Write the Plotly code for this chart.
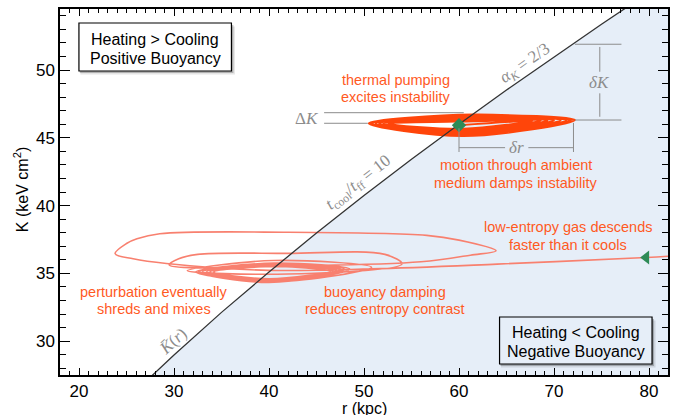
import plotly.graph_objects as go

# ---------------- data ----------------
# background entropy profile K̄(r) (the diagonal line, alpha_K = 2/3)
r_profile = [26, 30, 35, 40, 45, 50, 55, 60, 65, 70, 75, 80]
K_profile = [26.34, 28.98, 32.12, 35.10, 37.97, 40.74, 43.41, 46.00, 48.52, 50.98, 53.38, 55.72]

# growing oscillation (thermal pumping) - points along the trajectory
hot_r = [60.0,
         67.7, 60.5, 52.6, 61.5,
         68.6, 60.5, 52.0, 61.5,
         69.3, 60.5, 51.6, 61.5,
         70.0, 60.5, 51.2, 61.5,
         70.7, 60.5, 50.9, 61.5,
         71.3, 60.5, 50.7, 61.5,
         71.8, 60.5, 50.55, 61.5,
         72.2, 60.5, 50.5, 61.5,
         72.2]
hot_K = [45.93,
         46.25, 45.66, 46.03, 46.22,
         46.27, 45.56, 46.04, 46.32,
         46.28, 45.46, 46.05, 46.42,
         46.29, 45.38, 46.05, 46.50,
         46.30, 45.30, 46.06, 46.57,
         46.30, 45.23, 46.06, 46.63,
         46.31, 45.17, 46.07, 46.68,
         46.31, 45.13, 46.07, 46.72,
         46.31]

# descending low-entropy gas, damped oscillation - points along the trajectory
cold_r = [83.0, 79.7, 64.0, 50.8, 40.0, 29.2, 25.7,
          23.8, 25.0, 26.1, 28.5, 42.0, 56.6, 60.0, 63.9, 61.2, 56.0, 45.0,
          29.5, 30.5, 32.5, 42.0, 52.2, 54.0, 42.0,
          31.4, 40.5, 50.8, 41.0,
          32.3, 40.5, 48.5, 40.0,
          32.6, 40.5, 48.0, 40.0,
          33.0, 40.5, 47.6, 40.0,
          33.4, 40.5, 47.2, 40.0,
          33.8, 40.5, 46.8, 40.0,
          34.2, 40.5, 46.5]
cold_K = [36.30, 36.17, 35.68, 35.33, 35.22, 35.72, 36.07,
          36.45, 37.20, 37.55, 37.92, 38.03, 37.80, 37.45, 36.67, 36.34, 35.85, 35.58,
          35.62, 36.07, 36.40, 36.47, 36.40, 35.70, 34.95,
          35.20, 35.95, 35.45, 34.40,
          35.10, 35.75, 35.30, 34.33,
          35.10, 35.70, 35.28, 34.40,
          35.10, 35.65, 35.26, 34.47,
          35.10, 35.60, 35.24, 34.54,
          35.10, 35.55, 35.22, 34.60,
          35.10, 35.50, 35.20]

start_hot = (60.0, 45.93)
start_cold = (79.7, 36.17)

# ---------------- styling ----------------
FILL = "#E6EEF8"
HOT = "#FF450A"
COLD = "#F8806F"
TXT = "#FF5A1F"
GRAY = "#8C8C8C"
GREEN = "#2E8B57"
SANS = "Liberation Sans, Arial, Helvetica, sans-serif"
SERIF = "Liberation Serif, DejaVu Serif, Times New Roman, serif"

L, R, T, B = 60, 5, 9, 40
W, H = 675, 415
PW, PH = W - L - R, H - T - B


def px(x):
    return (x - L) / PW


def py(y):
    return (H - B - y) / PH


fig = go.Figure()

# shaded region (cooling dominates) to the right of the profile
fig.add_trace(go.Scatter(
    x=r_profile + [95, 95, r_profile[0]],
    y=K_profile + [K_profile[-1], 20, 20],
    fill="toself", fillcolor=FILL, mode="none", hoverinfo="skip"))

# trajectories
fig.add_trace(go.Scatter(x=cold_r, y=cold_K, mode="lines",
                         line=dict(color=COLD, width=1.6, shape="spline", smoothing=1.0),
                         hoverinfo="skip"))
fig.add_trace(go.Scatter(x=hot_r, y=hot_K, mode="lines",
                         line=dict(color=HOT, width=2.0, shape="spline", smoothing=1.0),
                         hoverinfo="skip"))

# background profile line
fig.add_trace(go.Scatter(x=r_profile, y=K_profile, mode="lines",
                         line=dict(color="#333333", width=1.3), hoverinfo="skip"))

# starting points
fig.add_trace(go.Scatter(x=[start_hot[0]], y=[start_hot[1]], mode="markers",
                         marker=dict(symbol="diamond", size=11, color=GREEN), hoverinfo="skip"))
fig.add_trace(go.Scatter(x=[start_cold[0]], y=[start_cold[1]], mode="markers",
                         marker=dict(symbol="triangle-left", size=12, color=GREEN), hoverinfo="skip"))

shapes = []


def seg(x0, y0, x1, y1):
    shapes.append(dict(type="line", xref="x", yref="y", x0=x0, y0=y0, x1=x1, y1=y1,
                       line=dict(color=GRAY, width=1), layer="above"))


# Delta K bracket
seg(45.8, 46.85, 60.5, 46.85)
seg(45.8, 46.07, 50.4, 46.07)
# delta K bracket
seg(72.2, 51.90, 77.1, 51.90)
seg(72.2, 46.31, 77.1, 46.31)
seg(74.82, 51.70, 74.82, 49.87)
seg(74.82, 48.28, 74.82, 46.55)
# delta r bracket
seg(60.0, 44.27, 64.85, 44.27)
seg(67.3, 44.27, 72.05, 44.27)
seg(60.0, 45.70, 60.0, 43.95)
seg(72.05, 46.10, 72.05, 43.95)


def box(x0, y0, x1, y1, fill):
    # soft shadow
    for off, a in ((3.5, 0.10), (2.0, 0.22)):
        shapes.append(dict(type="rect", xref="paper", yref="paper",
                           x0=px(x0 + off * 0.4), x1=px(x1 + off), y0=py(y1 + off), y1=py(y0 + off),
                           line=dict(width=0), fillcolor="rgba(0,0,0,%s)" % a, layer="above"))
    shapes.append(dict(type="rect", xref="paper", yref="paper",
                       x0=px(x0), x1=px(x1), y0=py(y1), y1=py(y0),
                       line=dict(color="black", width=1.2), fillcolor=fill, layer="above"))


box(79, 23, 232, 71, "white")
box(501, 317, 654, 364, FILL)

ann = []


def text(s, x, y, color, size, family, angle=0):
    ann.append(dict(text=s, x=px(x), y=py(y), xref="paper", yref="paper",
                    xanchor="center", yanchor="middle", showarrow=False, textangle=angle,
                    font=dict(color=color, size=size, family=family)))


# box texts
text("Heating &gt; Cooling", 155.5, 39.5, "black", 16, SANS)
text("Positive Buoyancy", 155.5, 58.5, "black", 16, SANS)
text("Heating &lt; Cooling", 577.5, 332, "black", 16, SANS)
text("Negative Buoyancy", 577.5, 351, "black", 16, SANS)

# orange annotations
text("thermal pumping", 397.5, 80, TXT, 14.5, SANS)
text("excites instability", 397.5, 96.7, TXT, 14.5, SANS)
text("motion through ambient", 517.5, 165, TXT, 14.5, SANS)
text("medium damps instability", 517.5, 182.7, TXT, 14.5, SANS)
text("low-entropy gas descends", 570, 227.3, TXT, 14.5, SANS)
text("faster than it cools", 570, 245, TXT, 14.5, SANS)
text("perturbation eventually", 154, 291.7, TXT, 14.5, SANS)
text("shreds and mixes", 154, 309.3, TXT, 14.5, SANS)
text("buoyancy damping", 386.5, 291.7, TXT, 14.5, SANS)
text("reduces entropy contrast", 386.5, 309.3, TXT, 14.5, SANS)

# gray math labels
text("<i>α<sub>K</sub></i> = 2/3", 527, 64, GRAY, 17, SERIF, -35)
text("<i>t</i><sub>cool</sub>/<i>t</i><sub>ff</sub> = 10", 360, 183, GRAY, 17, SERIF, -38)
text("<i>K̄</i>(<i>r</i>)", 173, 341.5, GRAY, 17, SERIF, -42)
text("Δ<i>K</i>", 308, 118.3, GRAY, 17, SERIF)
text("<i>δK</i>", 601, 82, GRAY, 17, SERIF)
text("<i>δr</i>", 518, 147.5, GRAY, 17, SERIF)

# axis titles
text("r (kpc)", 365, 408, "black", 16, SANS)
text("K (keV cm<sup>2</sup>)", 21, 190, "black", 16, SANS, -90)

axis_common = dict(showline=True, linecolor="black", linewidth=1.5, mirror="ticks",
                   ticks="inside", tickcolor="black", tickwidth=1.2,
                   showgrid=False, zeroline=False,
                   tickfont=dict(family=SANS, size=17, color="black"))

fig.update_layout(
    width=W, height=H,
    margin=dict(l=L, r=R, t=T, b=B),
    plot_bgcolor="white", paper_bgcolor="white",
    showlegend=False,
    xaxis=dict(range=[18, 82], tick0=0, dtick=10, ticklen=7,
               minor=dict(dtick=1, ticks="inside", ticklen=4, tickwidth=1, tickcolor="black", showgrid=False),
               **axis_common),
    yaxis=dict(range=[27.5, 54.5], tick0=0, dtick=5, ticklen=10,
               minor=dict(dtick=1, ticks="inside", ticklen=6, tickwidth=1, tickcolor="black", showgrid=False),
               **axis_common),
    shapes=shapes,
    annotations=ann,
)

fig.write_html("out.html", config={"displayModeBar": False},
               post_script="document.body.style.margin='0px';")
